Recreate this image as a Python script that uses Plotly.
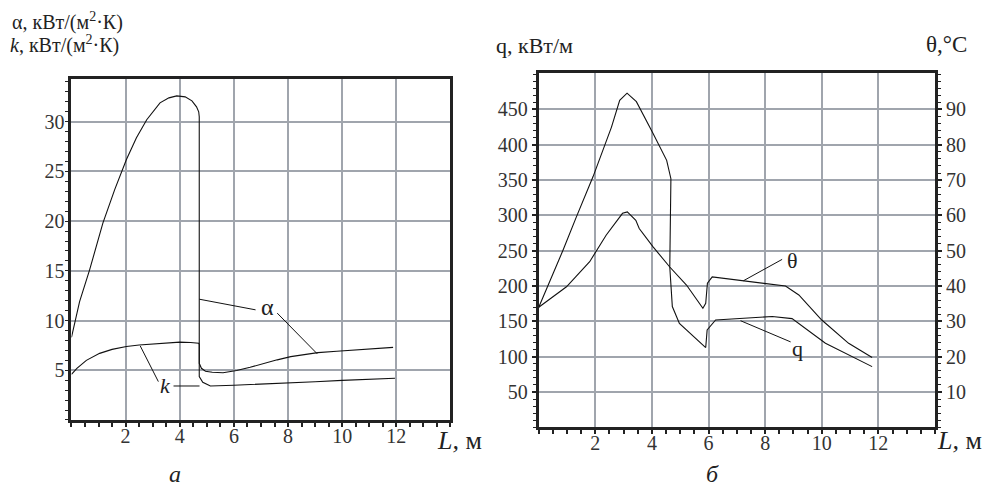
import plotly.graph_objects as go

# ---------------- data ----------------
# panel a: alpha and k vs L
alpha_L = [0, 0.3, 0.67, 1.16, 1.6, 2.03, 2.4, 2.78, 3.27, 3.6, 3.89, 4.2, 4.45, 4.62, 4.7, 4.72,
           4.72, 4.8, 4.95, 5.2, 5.6, 6.1, 6.6, 7.1, 7.6, 8.1, 8.6, 9.1, 9.8, 10.45, 11.2, 11.88]
alpha_v = [8.3, 11.9, 15.1, 19.8, 23.2, 26.2, 28.4, 30.2, 31.9, 32.4, 32.6, 32.5, 32.1, 31.5, 31.0, 30.5,
           5.7, 5.2, 4.9, 4.8, 4.75, 4.97, 5.3, 5.7, 6.05, 6.37, 6.6, 6.78, 6.92, 7.03, 7.15, 7.3]
k_L = [0, 0.2, 0.55, 1.04, 1.5, 2.03, 2.5, 3.0, 3.5, 4.0, 4.4, 4.7, 4.72,
       4.72, 4.85, 5.13, 6, 7, 8, 9, 10, 11, 11.95]
k_v = [4.6, 5.2, 6.0, 6.7, 7.1, 7.4, 7.55, 7.65, 7.75, 7.83, 7.8, 7.72, 7.6,
       4.36, 3.8, 3.42, 3.5, 3.6, 3.7, 3.85, 3.98, 4.08, 4.2]

# panel b: q (kW/m) and theta (deg C) vs L
q_L = [0, 0.33, 0.86, 1.33, 1.92, 2.57, 2.86, 3.12, 3.45, 4.04, 4.52, 4.67,
       4.65, 4.63, 4.72, 4.97, 5.9, 5.95, 6.25, 7.07, 8.25, 8.95, 10.13, 11.78]
q_v = [170, 201, 251, 298, 355, 425, 463, 473, 461, 416, 378, 352,
       290, 227, 171, 147, 113, 138, 152, 154, 157, 154, 119, 86]
th_L = [0, 0.98, 1.8, 2.38, 2.96, 3.13, 3.43, 3.55, 4.04, 4.63, 5.22, 5.8, 5.9, 5.96, 6.13,
        7.19, 8.72, 9.19, 10.0, 10.95, 11.78]
th_v = [34.0, 39.8, 46.9, 54.4, 60.6, 61.0, 58.6, 56.3, 51.1, 45.4, 40.3, 33.7, 35.1, 40.8, 42.6,
        41.5, 40.0, 37.5, 30.4, 23.8, 19.8]

x_ticks = [2, 4, 6, 8, 10, 12]
a_yticks = [5, 10, 15, 20, 25, 30]
q_ticks = [50, 100, 150, 200, 250, 300, 350, 400, 450]
th_ticks = [10, 20, 30, 40, 50, 60, 70, 80, 90]

# ---------------- figure ----------------
SERIF = "Liberation Serif"
INK = "#222222"
GRID = "#a0a5ad"

fig = go.Figure()
line = dict(color="#111111", width=1.1)
fig.add_trace(go.Scatter(x=alpha_L, y=alpha_v, mode="lines", line=line, xaxis="x", yaxis="y"))
fig.add_trace(go.Scatter(x=k_L, y=k_v, mode="lines", line=line, xaxis="x", yaxis="y"))
fig.add_trace(go.Scatter(x=q_L, y=q_v, mode="lines", line=line, xaxis="x2", yaxis="y2"))
fig.add_trace(go.Scatter(x=th_L, y=th_v, mode="lines", line=line, xaxis="x2", yaxis="y3"))

tickfont = dict(family=SERIF, size=20, color="#333333")


def xaxis(domain, anchor):
    return dict(domain=domain, anchor=anchor, range=[0, 14], tickmode="array", tickvals=x_ticks,
                automargin=False, ticklabelstandoff=-4,
                showgrid=True, gridcolor=GRID, gridwidth=2, zeroline=False,
                showline=True, linewidth=3, linecolor=INK, mirror=True,
                ticks="", tickfont=tickfont,
                minor=dict(tickmode="array", tickvals=[i * 0.5 for i in range(29)],
                           ticks="outside", ticklen=4, tickwidth=1.5, tickcolor=INK, showgrid=False))


fig.update_layout(
    width=994, height=487, margin=dict(l=0, r=0, t=0, b=0),
    paper_bgcolor="white", plot_bgcolor="white", showlegend=False,
    font=dict(family=SERIF),
    xaxis=xaxis([0.0719, 0.4532], "y"),
    yaxis=dict(domain=[0.1376, 0.8378], anchor="x", range=[0, 34.3], tickmode="array",
               automargin=False,
               tickvals=a_yticks, showgrid=True, gridcolor=GRID, gridwidth=2, zeroline=False,
               showline=True, linewidth=3, linecolor=INK, mirror=True,
               ticks="", tickfont=tickfont,
               minor=dict(tickmode="array", tickvals=list(range(0, 35)), ticks="outside",
                          ticklen=3, tickwidth=1, tickcolor=INK, showgrid=False)),
    xaxis2=xaxis([0.542, 0.9406], "y2"),
    yaxis2=dict(domain=[0.1224, 0.8507], anchor="x2", range=[0, 502], tickmode="array",
                automargin=False,
                tickvals=q_ticks, showgrid=True, gridcolor=GRID, gridwidth=2, zeroline=False,
                showline=True, linewidth=3, linecolor=INK, mirror=True,
                ticks="outside", ticklen=4, tickwidth=1.5, tickcolor=INK, tickfont=tickfont,
                minor=dict(tickmode="array", tickvals=list(range(0, 501, 10)), ticks="outside",
                           ticklen=3, tickwidth=1, tickcolor=INK, showgrid=False)),
    yaxis3=dict(overlaying="y2", side="right", anchor="x2", range=[0, 100.4], tickmode="array",
                automargin=False,
                tickvals=th_ticks, showgrid=False, zeroline=False,
                showline=True, linewidth=3, linecolor=INK,
                ticks="outside", ticklen=4, tickwidth=1.5, tickcolor=INK, tickfont=tickfont,
                minor=dict(tickmode="array", tickvals=list(range(0, 101, 2)), ticks="outside",
                           ticklen=3, tickwidth=1, tickcolor=INK, showgrid=False)),
)

# leader lines for curve labels
leaders = [
    ("x", "y", 4.72, 12.15, 6.8, 11.08),
    ("x", "y", 7.6, 10.75, 9.08, 6.65),
    ("x", "y", 2.54, 7.45, 3.21, 3.86),
    ("x", "y", 3.77, 3.42, 4.73, 3.42),
    ("x2", "y2", 8.6, 237.8, 7.23, 207.5),
    ("x2", "y2", 8.9, 121, 7.13, 151),
]
for xr, yr, x0, y0, x1, y1 in leaders:
    fig.add_shape(type="line", xref=xr, yref=yr, x0=x0, y0=y0, x1=x1, y1=y1,
                  line=dict(color="#111111", width=1))


def ann(text, x, y, size, xref="paper", yref="paper", xanchor="center", yanchor="middle", height=None):
    fig.add_annotation(text=text, x=x, y=y, xref=xref, yref=yref, showarrow=False,
                       xanchor=xanchor, yanchor=yanchor, height=height,
                       font=dict(family=SERIF, size=size, color="#222222"))


H = 487.0
W = 994.0
# curve labels
ann("α", 7.23, 11.4, 24, "x", "y")
ann("<i>k</i>", 3.46, 3.5, 22, "x", "y")
ann("θ", 8.98, 236, 22, "x2", "y2")
ann("q", 9.15, 112, 22, "x2", "y2")

# axis titles
ann("α, кВт/(м<sup>2</sup>·К)", 10 / W, 1 - 21 / H, 20, xanchor="left")
ann("<i>k</i>, кВт/(м<sup>2</sup>·К)", 8 / W, 1 - 45 / H, 20, xanchor="left")
ann("q, кВт/м", 494 / W, 1 - 46 / H, 22, xanchor="left")
ann("θ,°C", 924 / W, 1 - 45 / H, 23, xanchor="left")
ann("<i>L,</i> м", 435 / W, 1 - 440 / H, 26, xanchor="left")
ann("<i>L,</i> м", 935 / W, 1 - 440 / H, 26, xanchor="left")
ann("<i>а</i>", 175 / W, 1 - 474 / H, 24, height=20)
ann("<i>б</i>", 712 / W, 1 - 474 / H, 24, height=20)

fig.write_html("out.html", config={"displayModeBar": False},
               post_script="document.body.style.margin='0';")
